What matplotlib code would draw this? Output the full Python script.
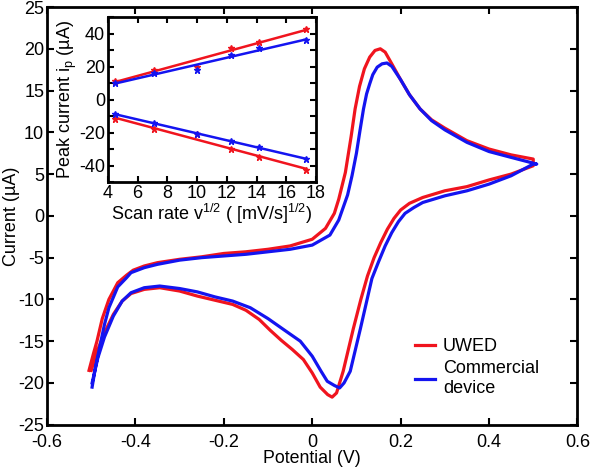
import numpy as np
import matplotlib
matplotlib.use('Agg')
import matplotlib.pyplot as plt
from matplotlib.ticker import MultipleLocator

plt.rcParams['font.family'] = ['Liberation Sans', 'DejaVu Sans']
plt.rcParams['font.size'] = 13
plt.rcParams['axes.unicode_minus'] = False
plt.rcParams['mathtext.default'] = 'regular'

# CV curves - forward scan (upper branch)
uwed_fwd_v = [-0.505, -0.495, -0.487, -0.475, -0.46, -0.44, -0.42, -0.405, -0.38, -0.35, -0.3, -0.25,
              -0.2, -0.15, -0.1, -0.05, 0.0, 0.03, 0.05, 0.06, 0.075, 0.088, 0.097, 0.107, 0.118,
              0.13, 0.142, 0.154, 0.165, 0.18, 0.2, 0.22, 0.244, 0.27, 0.3, 0.35, 0.4, 0.45, 0.5]
uwed_fwd_i = [-18.5, -16.5, -15.0, -12.3, -10.0, -8.0, -7.1, -6.5, -6.0, -5.6, -5.2, -4.9,
              -4.5, -4.3, -4.0, -3.6, -2.8, -1.5, 0.3, 2.0, 5.2, 9.5, 12.8, 15.5, 17.6,
              19.0, 19.8, 20.0, 19.6, 18.2, 16.3, 14.5, 12.8, 11.5, 10.5, 9.0, 8.0, 7.3, 6.8]
comm_fwd_v = [-0.498, -0.49, -0.48, -0.47, -0.46, -0.44, -0.42, -0.41, -0.38, -0.35, -0.3, -0.25,
              -0.2, -0.15, -0.1, -0.05, 0.0, 0.04, 0.06, 0.08, 0.09, 0.1, 0.108, 0.116, 0.123,
              0.13, 0.137, 0.147, 0.158, 0.169, 0.18, 0.2, 0.22, 0.244, 0.27, 0.3, 0.35, 0.4,
              0.45, 0.508]
comm_fwd_i = [-20.5, -18.0, -15.5, -13.0, -11.0, -8.5, -7.4, -6.8, -6.2, -5.8, -5.3, -5.0,
              -4.8, -4.6, -4.3, -4.0, -3.5, -2.3, -0.5, 2.5, 4.8, 7.5, 10.2, 12.8, 14.6,
              15.8, 16.9, 17.8, 18.2, 18.3, 17.9, 16.3, 14.5, 12.8, 11.4, 10.3, 8.8, 7.7,
              7.0, 6.2]

# CV curves - reverse scan (lower branch)
uwed_rev_v = [0.5, 0.45, 0.4, 0.35, 0.3, 0.25, 0.22, 0.2, 0.185, 0.17, 0.155, 0.14, 0.125,
              0.11, 0.093, 0.07, 0.055, 0.045, 0.035, 0.018, 0.0, -0.02, -0.045, -0.07, -0.095,
              -0.12, -0.15, -0.18, -0.22, -0.26, -0.3, -0.345, -0.38, -0.41, -0.43, -0.45,
              -0.47, -0.485, -0.5]
uwed_rev_i = [6.0, 5.0, 4.3, 3.5, 3.0, 2.2, 1.5, 0.7, -0.3, -1.6, -3.2, -5.0, -7.2,
              -10.0, -13.5, -18.6, -21.2, -21.7, -21.4, -20.5, -18.8, -17.2, -16.0, -14.9, -13.7,
              -12.4, -11.3, -10.6, -10.1, -9.6, -9.0, -8.6, -8.8, -9.3, -10.2, -11.8,
              -14.0, -16.0, -18.5]
comm_rev_v = [0.5, 0.45, 0.4, 0.35, 0.3, 0.25, 0.23, 0.21, 0.195, 0.18, 0.165, 0.15, 0.135,
              0.109, 0.086, 0.072, 0.062, 0.05, 0.034, 0.02, 0.0, -0.027, -0.065, -0.1, -0.14,
              -0.18, -0.22, -0.26, -0.3, -0.345, -0.38, -0.41, -0.43, -0.45, -0.47, -0.485,
              -0.498]
comm_rev_i = [6.2, 4.8, 3.8, 3.0, 2.4, 1.6, 1.0, 0.3, -0.7, -2.0, -3.6, -5.5, -7.5,
              -13.5, -18.6, -20.0, -20.6, -20.3, -19.8, -18.6, -16.8, -15.0, -13.6, -12.3, -11.0,
              -10.2, -9.7, -9.1, -8.7, -8.4, -8.6, -9.2, -10.2, -12.0, -14.5, -17.0,
              -20.0]

# inset: peak current vs sqrt(scan rate)
sqrt_rate = [4.47, 7.07, 10.0, 12.25, 14.14, 17.32]
uwed_ipa = [11.5, 18.0, 20.0, 31.0, 35.0, 42.5]
uwed_ipc = [-12.0, -18.0, -21.0, -30.0, -35.0, -42.5]
comm_ipa = [10.0, 16.0, 18.0, 27.0, 31.0, 36.0]
comm_ipc = [-9.0, -14.0, -21.0, -25.0, -29.0, -36.0]

red = '#f0141e'
blue = '#1414f0'

fig = plt.figure(figsize=(5.9, 4.68), dpi=100)
ax = fig.add_axes([0.0797, 0.0925, 0.899, 0.8925])

ax.plot(uwed_fwd_v + uwed_rev_v, uwed_fwd_i + uwed_rev_i, color=red, lw=2.3, label='UWED')
ax.plot(comm_fwd_v + comm_rev_v, comm_fwd_i + comm_rev_i, color=blue, lw=2.3,
        label='Commercial\ndevice')

ax.set_xlim(-0.6, 0.6)
ax.set_ylim(-25, 25)
ax.set_xticks(np.arange(-0.6, 0.61, 0.2))
ax.set_xticklabels(['-0.6', '-0.4', '-0.2', '0', '0.2', '0.4', '0.6'])
ax.set_yticks(np.arange(-25, 26, 5))
ax.tick_params(direction='in', top=True, right=True, length=5, width=1.5)
ax.tick_params(axis='x', pad=6.5)
ax.tick_params(axis='y', pad=2)
for s in ax.spines.values():
    s.set_linewidth(2)
ax.set_xlabel('Potential (V)', labelpad=-0.5, fontsize=12.8)
ax.set_ylabel('Current (µA)', labelpad=-1)

ax.legend(loc='upper left', bbox_to_anchor=(0.68, 0.225), borderaxespad=0, frameon=False,
          handlelength=1.1, handletextpad=0.45, labelspacing=0.3)

# inset
ins = fig.add_axes([0.183, 0.611, 0.3525, 0.3526])
x = np.array(sqrt_rate)
xf = np.array([x.min(), x.max()])
for y, c in [(uwed_ipa, red), (uwed_ipc, red), (comm_ipa, blue), (comm_ipc, blue)]:
    p = np.polyfit(x, y, 1)
    ins.plot(xf, np.polyval(p, xf), color=c, lw=1.8)
    ins.plot(x, y, '*', color=c, ms=5)

ins.set_xlim(4, 18)
ins.set_ylim(-50, 50)
ins.set_xticks(np.arange(4, 19, 2))
ins.set_yticks([-40, -20, 0, 20, 40])
ins.yaxis.set_minor_locator(MultipleLocator(10))
ins.tick_params(which='both', direction='in', top=True, right=True, length=4, width=1.5, pad=2)
for s in ins.spines.values():
    s.set_linewidth(2)
ins.set_xlabel('Scan rate v$^{1/2}$ ( [mV/s]$^{1/2}$)', labelpad=0)
ins.set_ylabel('Peak current i$_{p}$ (µA)', labelpad=0)

fig.savefig('out.png', dpi=100)
